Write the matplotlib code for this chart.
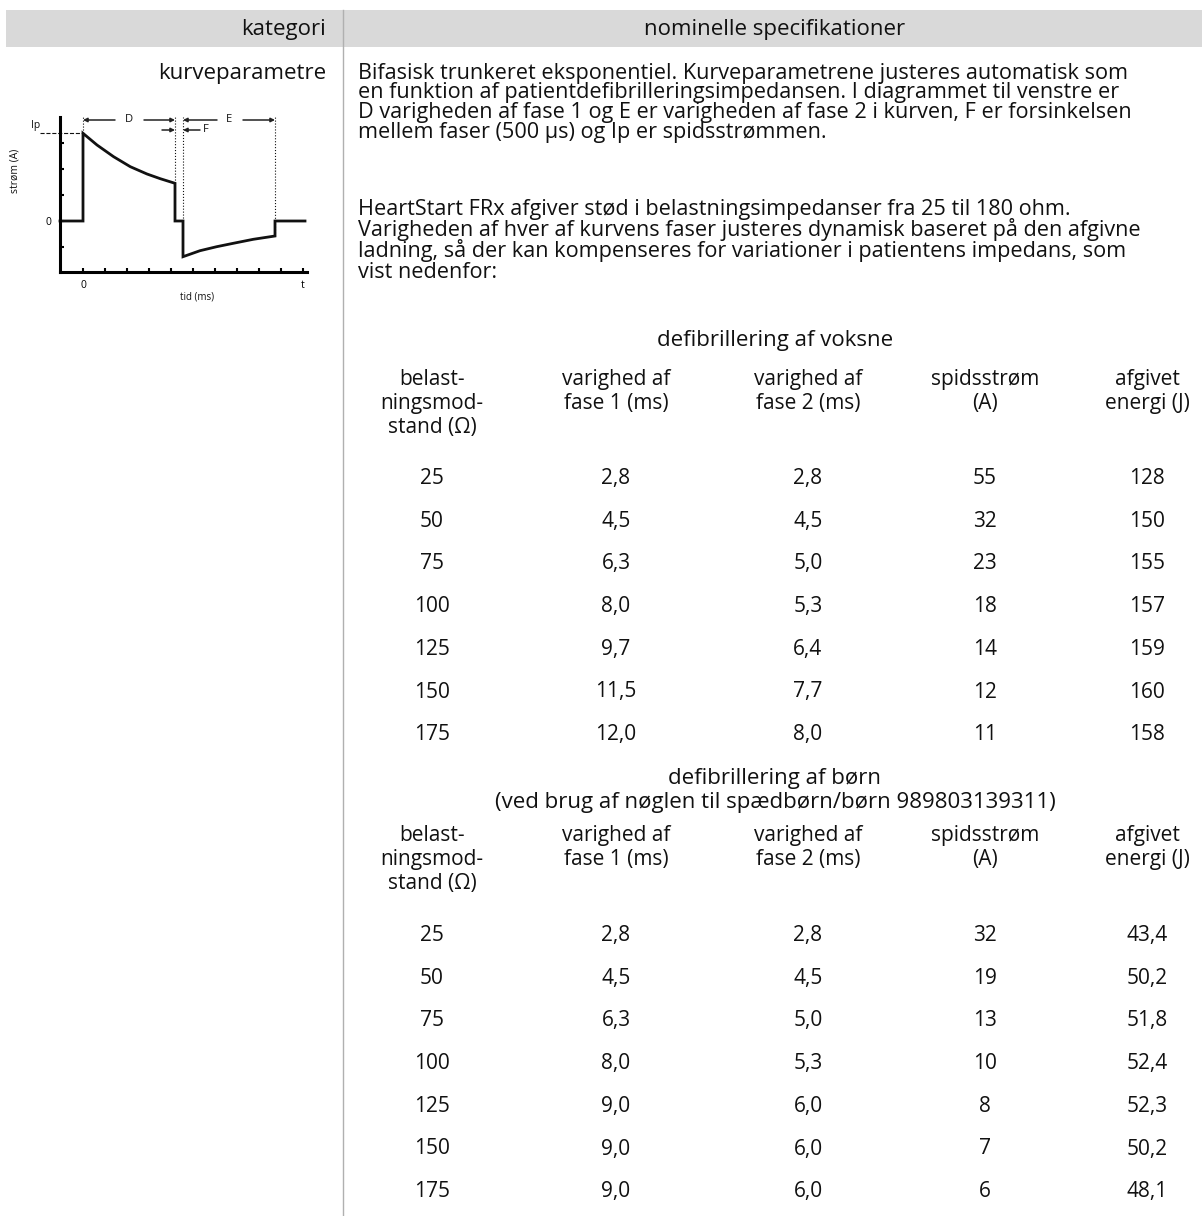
import matplotlib
matplotlib.use("Agg")
from matplotlib import pyplot as plt
from matplotlib.patches import Rectangle

plt.rcParams['font.family'] = ['Open Sans', 'DejaVu Sans']

# waveform (arbitrary time / current units)
phase1_t = [0, 1.4, 3.06, 4.73, 6.4, 7.73, 9.2]
phase1_i = [8.77, 7.6, 6.43, 5.43, 4.7, 4.23, 3.77]
phase2_t = [10.0, 11.7, 13.37, 15.03, 17.03, 19.2]
phase2_i = [-3.57, -2.97, -2.57, -2.23, -1.83, -1.5]
t_before, t_after = -2.3, 22.2

# table values
ohm = [25, 50, 75, 100, 125, 150, 175]
adult_fase1 = [2.8, 4.5, 6.3, 8.0, 9.7, 11.5, 12.0]
adult_fase2 = [2.8, 4.5, 5.0, 5.3, 6.4, 7.7, 8.0]
adult_peak = [55, 32, 23, 18, 14, 12, 11]
adult_energy = [128, 150, 155, 157, 159, 160, 158]
child_fase1 = [2.8, 4.5, 6.3, 8.0, 9.0, 9.0, 9.0]
child_fase2 = [2.8, 4.5, 5.0, 5.3, 6.0, 6.0, 6.0]
child_peak = [32, 19, 13, 10, 8, 7, 6]
child_energy = [43.4, 50.2, 51.8, 52.4, 52.3, 50.2, 48.1]

col_heads = [["belast-", "ningsmod-", "stand (Ω)"],
             ["varighed af", "fase 1 (ms)"],
             ["varighed af", "fase 2 (ms)"],
             ["spidsstrøm", "(A)"],
             ["afgivet", "energi (J)"]]

para1 = ["Bifasisk trunkeret eksponentiel. Kurveparametrene justeres automatisk som",
         "en funktion af patientdefibrilleringsimpedansen. I diagrammet til venstre er",
         "D varigheden af fase 1 og E er varigheden af fase 2 i kurven, F er forsinkelsen",
         "mellem faser (500 µs) og Ip er spidsstrømmen."]
para2 = ["HeartStart FRx afgiver stød i belastningsimpedanser fra 25 til 180 ohm.",
         "Varigheden af hver af kurvens faser justeres dynamisk baseret på den afgivne",
         "ladning, så der kan kompenseres for variationer i patientens impedans, som",
         "vist nedenfor:"]

ink = "#111111"
W, H = 1202, 1216
fig = plt.figure(figsize=(W / 100, H / 100), dpi=100)

# page layer in pixel units
page = fig.add_axes([0, 0, 1, 1])
page.set_xlim(0, W)
page.set_ylim(H, 0)
page.axis("off")

fs_par = 15.6
fs_tab = 15
fs_head = 16

page.add_patch(Rectangle((6, 10), W - 6, 37, color="#d9d9d9", lw=0))
page.plot([343, 343], [10, H], color="#b0b0b0", lw=1)
page.text(326, 35, "kategori", ha="right", va="baseline", fontsize=fs_head, color=ink)
page.text(775, 35, "nominelle specifikationer", ha="center", va="baseline", fontsize=fs_head, color=ink)
page.text(326, 79, "kurveparametre", ha="right", va="baseline", fontsize=fs_head, color=ink)

for k, line in enumerate(para1):
    page.text(358, 78.5 + 19.7 * k, line, va="baseline", fontsize=fs_par, color=ink)
for k, line in enumerate(para2):
    page.text(358, 215.5 + 20.8 * k, line, va="baseline", fontsize=fs_par, color=ink)

col_x = [432, 616, 808, 985, 1147]


def fmt(v):
    return f"{v:.1f}".replace(".", ",") if isinstance(v, float) else str(v)


def draw_table(title_lines, title_y, head_y, row_y, cols):
    for k, s in enumerate(title_lines):
        page.text(775, title_y + 24 * k, s, ha="center", va="baseline", fontsize=fs_head, color=ink)
    for x, head in zip(col_x, col_heads):
        for k, s in enumerate(head):
            page.text(x, head_y + 24 * k, s, ha="center", va="baseline", fontsize=fs_tab, color=ink)
    for r in range(len(ohm)):
        y = row_y + 42.7 * r
        for x, col in zip(col_x, cols):
            page.text(x, y, fmt(col[r]), ha="center", va="baseline", fontsize=fs_tab, color=ink)


draw_table(["defibrillering af voksne"], 346, 385, 484,
           [ohm, adult_fase1, adult_fase2, adult_peak, adult_energy])
draw_table(["defibrillering af børn", "(ved brug af nøglen til spædbørn/børn 989803139311)"],
           784, 841, 941, [ohm, child_fase1, child_fase2, child_peak, child_energy])

# waveform diagram
ax = fig.add_axes([60 / W, 1 - 272 / H, 247 / W, 155 / H])
wave_t = [t_before, 0] + phase1_t + [phase1_t[-1], phase2_t[0]] + phase2_t + [phase2_t[-1], t_after]
wave_i = [0, 0] + phase1_i + [0, 0] + phase2_i + [0, 0]
ax.plot(wave_t, wave_i, color=ink, lw=2, solid_joinstyle="miter", clip_on=False)
ax.set_xlim(-2.3, 22.4)
ax.set_ylim(-5.1, 10.4)
for s in ["top", "right"]:
    ax.spines[s].set_visible(False)
for s in ["left", "bottom"]:
    ax.spines[s].set_linewidth(2.2)
ax.set_xticks([2.2 * k for k in range(11)])
ax.set_xticklabels(["0"] + [""] * 9 + ["t"])
ax.set_yticks([-2.6, 0, 2.6, 5.2, 7.8])
ax.set_yticklabels(["", "0", "", "", ""])
ax.tick_params(direction="in", length=3, width=1.5, labelsize=7.5, pad=6)
ax.patch.set_alpha(0)

top = 10.4
ax.vlines([phase1_t[0], phase1_t[-1], phase2_t[0], phase2_t[-1]],
          [phase1_i[0], phase1_i[-1], 0, phase2_i[-1]], top,
          colors=ink, linestyles=":", lw=0.8)
ax.plot([-4.3, 0], [phase1_i[0]] * 2, ls="--", color=ink, lw=0.8, clip_on=False)
ax.text(-4.3, phase1_i[0] + 0.2, "Ip", ha="right", va="bottom", fontsize=7.5, color=ink)

arrow = dict(arrowstyle="-|>", color="#222222", lw=1.1, mutation_scale=6, shrinkA=0, shrinkB=0)
ya, yf = 10.1, 9.1
ax.annotate("", xy=(phase1_t[0], ya), xytext=(3.2, ya), arrowprops=arrow)
ax.annotate("", xy=(phase1_t[-1], ya), xytext=(6.1, ya), arrowprops=arrow)
ax.text(4.6, ya, "D", ha="center", va="center", fontsize=8, color=ink)
ax.annotate("", xy=(phase2_t[0], ya), xytext=(13.4, ya), arrowprops=arrow)
ax.annotate("", xy=(phase2_t[-1], ya), xytext=(16.0, ya), arrowprops=arrow)
ax.text(14.6, ya, "E", ha="center", va="center", fontsize=8, color=ink)
ax.annotate("", xy=(phase1_t[-1], yf), xytext=(7.9, yf), arrowprops=arrow)
ax.annotate("", xy=(phase2_t[0], yf), xytext=(11.7, yf), arrowprops=arrow)
ax.text(12.3, yf, "F", ha="center", va="center", fontsize=8, color=ink)

ax.text((197 - 60) / 247, -25 / 155, "tid (ms)", transform=ax.transAxes,
        ha="center", va="center", fontsize=7, color=ink)
ax.text(-45 / 247, (221 - 197) / 155 + 0.5, "strøm (A)", transform=ax.transAxes,
        ha="center", va="center", rotation=90, fontsize=7.5, color=ink)

fig.savefig("out.png", dpi=100)
